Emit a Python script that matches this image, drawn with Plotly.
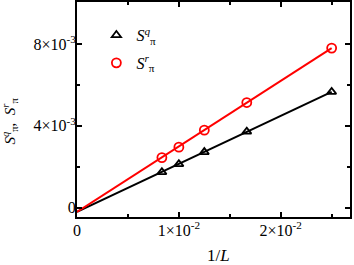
import plotly.graph_objects as go

inv_L = [1/120, 1/100, 1/80, 1/60, 1/40]
S_q = [0.00174, 0.00213, 0.00272, 0.00372, 0.00566]
S_r = [0.00245, 0.00296, 0.00379, 0.00514, 0.00780]
fit_x = [0.0, 0.025]
fit_q = [-0.0002, 0.00566]
fit_r = [-0.0002, 0.00780]

x_tickvals = [0, 0.01, 0.02]
x_ticktext = ["0", "1×10<sup>-2</sup>", "2×10<sup>-2</sup>"]
y_tickvals = [0, 0.004, 0.008]
y_ticktext = ["0", "4×10<sup>-3</sup>", "8×10<sup>-3</sup>"]

FONT = "Liberation Serif, Times New Roman, serif"

fig = go.Figure()
fig.add_trace(go.Scatter(x=fit_x, y=fit_q, mode="lines", line=dict(color="black", width=2), showlegend=False))
fig.add_trace(go.Scatter(x=fit_x, y=fit_r, mode="lines", line=dict(color="#ff0000", width=2), showlegend=False))
fig.add_trace(go.Scatter(x=inv_L, y=S_q, mode="markers", name="<i>S</i><sup><i>q</i></sup><sub>π</sub>",
                         legendgroup="q",
                         marker=dict(symbol="triangle-up-open", size=8, color="black", line=dict(width=1.8))))
fig.add_trace(go.Scatter(x=inv_L, y=S_r, mode="markers", name="<i>S</i><sup><i>r</i></sup><sub>π</sub>",
                         legendgroup="r",
                         marker=dict(symbol="circle-open", size=9, color="#ff0000", line=dict(width=1.8))))

axis_common = dict(showline=True, linecolor="black", linewidth=2, mirror="allticks",
                   ticks="inside", tickcolor="black", tickwidth=1.5, ticklen=5,
                   showgrid=False, zeroline=False, automargin=False,
                   tickfont=dict(family=FONT, size=16, color="black"))

fig.update_xaxes(range=[0, 0.0268], tickvals=x_tickvals, ticktext=x_ticktext, ticklabelstandoff=-2,
                 minor=dict(tickvals=[0.005, 0.015, 0.025], ticks="inside", ticklen=3, tickcolor="black", tickwidth=1.5),
                 **axis_common)
fig.update_yaxes(range=[-0.00045, 0.01005], tickvals=y_tickvals, ticktext=y_ticktext, ticklabelstandoff=-4,
                 minor=dict(tickvals=[0.002, 0.006], ticks="inside", ticklen=3, tickcolor="black", tickwidth=1.5),
                 **axis_common)

fig.add_annotation(text="1/<i>L</i>", xref="paper", yref="paper", x=0.518, y=-0.18,
                   xanchor="center", yanchor="middle", showarrow=False,
                   font=dict(family=FONT, size=17, color="black"))
fig.add_annotation(text="<i>S</i><sup><i>q</i></sup><sub>π</sub>,  <i>S</i><sup><i>r</i></sup><sub>π</sub>",
                   xref="paper", yref="paper", x=-0.245, y=0.445, textangle=-90,
                   xanchor="center", yanchor="middle", showarrow=False,
                   font=dict(family=FONT, size=15, color="black"))

fig.update_layout(width=354, height=265, margin=dict(l=77, r=4, t=2, b=48),
                  plot_bgcolor="white", paper_bgcolor="white",
                  font=dict(family=FONT, size=16, color="black"),
                  legend=dict(x=0.071, y=0.925, xanchor="left", yanchor="top", bgcolor="rgba(0,0,0,0)",
                              font=dict(family=FONT, size=16), itemwidth=30, tracegroupgap=4))

fig.write_html("out.html", config={"displayModeBar": False},
               post_script="document.body.style.margin='0';document.body.style.overflow='hidden';")
